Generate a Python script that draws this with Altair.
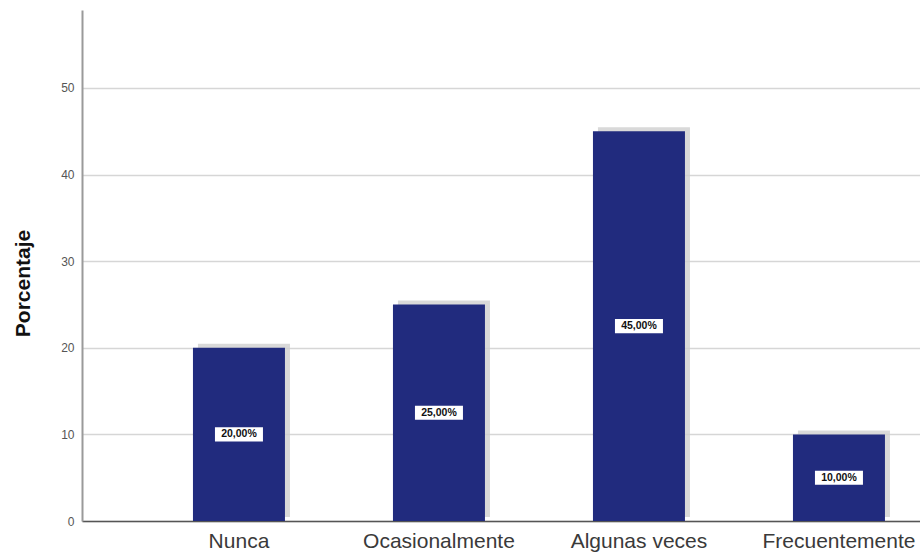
import altair as alt
import pandas as pd

# Response categories and their share of answers (%)
categorias = ["Nunca", "Ocasionalmente", "Algunas veces", "Frecuentemente"]
porcentajes = [20, 25, 45, 10]
etiquetas = ["20,00%", "25,00%", "45,00%", "10,00%"]

df = pd.DataFrame({"categoria": categorias, "porcentaje": porcentajes, "etiqueta": etiquetas})

x_enc = alt.X(
    "categoria:N",
    sort=categorias,
    title=None,
    scale=alt.Scale(paddingInner=0.54, paddingOuter=0.365, align=0.76),
    axis=alt.Axis(
        labelAngle=0,
        labelFont="Liberation Sans",
        labelFontSize=21,
        labelColor="#3a3a3a",
        labelPadding=9,
        ticks=False,
        domainColor="#555555",
        domainWidth=1.5,
        grid=False,
    ),
)

y_scale = alt.Scale(domain=[0, 59], nice=False)

base = alt.Chart(df)

# soft grey drop shadow behind each bar
sombra = base.mark_bar(color="#cfcfcf", xOffset=5, yOffset=-4, opacity=0.8).encode(
    x=x_enc,
    y=alt.Y("porcentaje:Q", scale=y_scale),
)

barras = base.mark_bar(color="#212b7e").encode(
    x=x_enc,
    y=alt.Y(
        "porcentaje:Q",
        scale=y_scale,
        title="Porcentaje",
        axis=alt.Axis(
            values=[0, 10, 20, 30, 40, 50],
            labelFont="Liberation Sans",
            labelFontSize=12,
            labelColor="#555555",
            labelPadding=8,
            ticks=False,
            domainColor="#9a9a9a",
            domainWidth=2,
            gridColor="#d6d6d6",
            gridWidth=1.6,
            titleFont="Liberation Sans",
            titleFontSize=21,
            titleFontWeight="bold",
            titleColor="#111111",
            titlePadding=27,
            titleY=273,
        ),
    ),
)

# white box holding the value label at half bar height
caja = (
    base.transform_calculate(mitad="datum.porcentaje / 2")
    .mark_point(
        shape="M-1.5,-0.44 H1.5 V0.44 H-1.5 Z",
        size=1024,
        filled=True,
        color="white",
        opacity=1,
    )
    .encode(x=x_enc, y=alt.Y("mitad:Q", scale=y_scale))
)

texto = (
    base.transform_calculate(mitad="datum.porcentaje / 2")
    .mark_text(font="Liberation Sans", fontSize=10.5, fontWeight="bold", color="#111111")
    .encode(x=x_enc, y=alt.Y("mitad:Q", scale=y_scale), text="etiqueta:N")
)

chart = (
    alt.layer(sombra, barras, caja, texto)
    .properties(
        width=838,
        height=511,
        padding={"left": 82, "top": 10, "right": 0, "bottom": 36},
        autosize=alt.AutoSizeParams(type="none"),
        background="white",
    )
    .configure_view(stroke=None)
)

chart.save("out.html", embed_options={"renderer": "svg", "actions": False})
